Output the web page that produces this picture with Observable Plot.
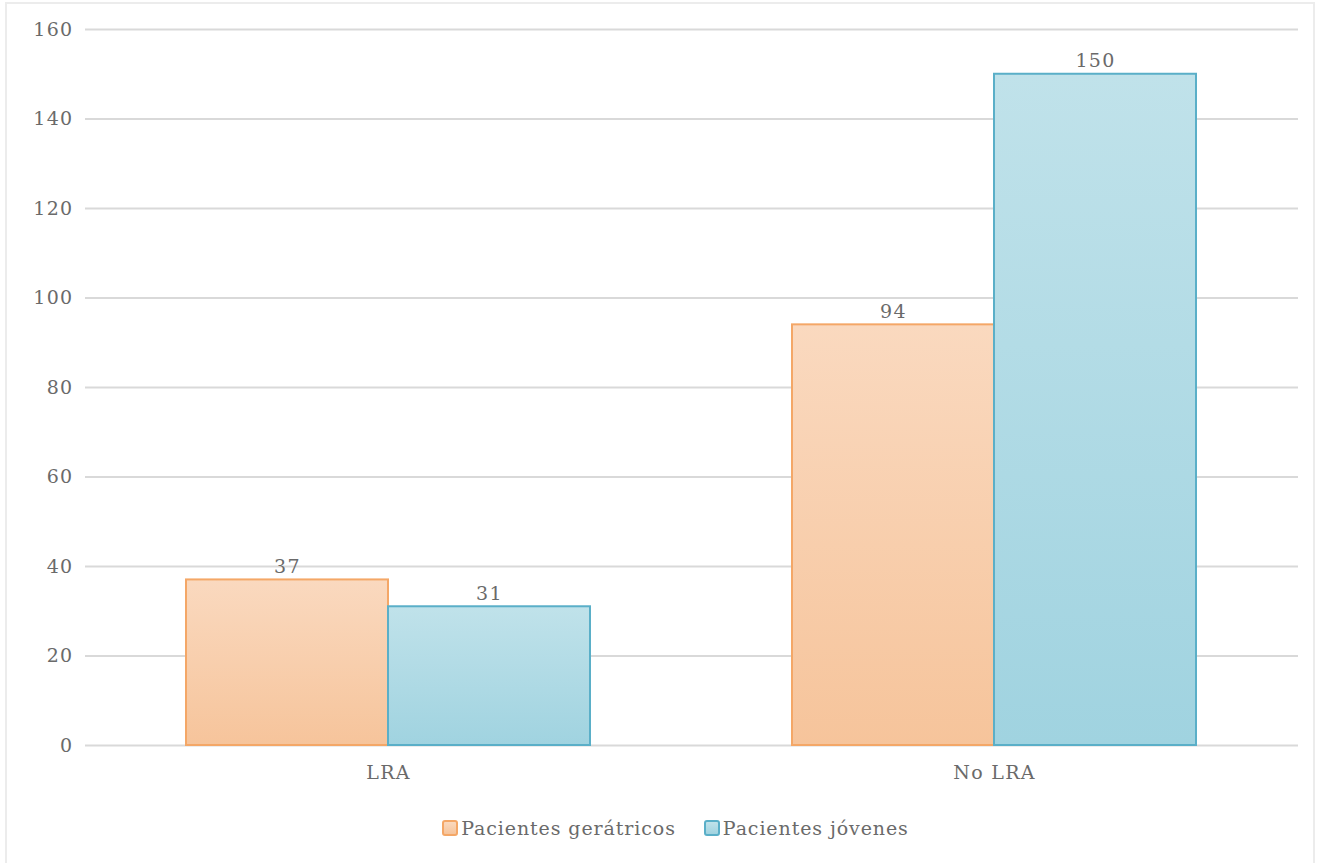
<!DOCTYPE html>
<html>
<head>
<meta charset="utf-8">
<script src="https://cdn.jsdelivr.net/npm/d3@7"></script>
<script src="https://cdn.jsdelivr.net/npm/@observablehq/plot@0.6"></script>
<style>
  html, body { margin: 0; padding: 0; background: #fff; }
  body { width: 1323px; height: 863px; overflow: hidden; position: relative; font-family: "DejaVu Serif", serif; }
  #frame { position: absolute; left: 5px; top: 2px; width: 1310px; height: 880px; border: 2px solid #ececec; box-sizing: border-box; pointer-events: none; }
  #chart { position: absolute; left: 0; top: 0; }
  #chart svg text { letter-spacing: 1.3px; }
  #legend { position: absolute; left: 14px; top: 817px; width: 1323px; display: flex; justify-content: center; gap: 28px; font-size: 19px; letter-spacing: 0.9px; color: #6a6a6a; }
  .item { display: flex; align-items: center; gap: 3px; }
  .sw { width: 16px; height: 16px; border-radius: 3px; box-sizing: border-box; border: 2px solid; }
</style>
</head>
<body>
<div id="chart"></div>
<div id="legend"></div>
<div id="frame"></div>
<script>
// Categories and series
const categories = ["LRA", "No LRA"];
const series = ["Pacientes gerátricos", "Pacientes jóvenes"];
const geriatricos = [37, 94];
const jovenes = [31, 150];
const yTicks = [0, 20, 40, 60, 80, 100, 120, 140, 160];

const colors = {
  "Pacientes gerátricos": { fill: "url(#gradGer)", stroke: "#f4a767", top: "#fad9bf", bottom: "#f6c49b" },
  "Pacientes jóvenes": { fill: "url(#gradJov)", stroke: "#5aafc8", top: "#c0e2ea", bottom: "#a0d3e0" }
};

const rows = [];
categories.forEach((c, i) => {
  rows.push({ cat: c, serie: series[0], value: geriatricos[i] });
  rows.push({ cat: c, serie: series[1], value: jovenes[i] });
});
const ger = rows.filter(d => d.serie === series[0]);
const jov = rows.filter(d => d.serie === series[1]);

const W = 1323, H = 800;
const half = 202; // half of the category band holds one series

const chart = Plot.plot({
  width: W,
  height: H,
  marginLeft: 85,
  marginRight: 25,
  marginTop: 29,
  marginBottom: 55,
  style: { fontFamily: "DejaVu Serif, serif", fontSize: "19px", color: "#6a6a6a", background: "transparent" },
  x: { domain: categories, paddingInner: 0.333, paddingOuter: 0.167, label: null, tickSize: 0, tickPadding: 20 },
  y: { domain: [0, 160], ticks: yTicks, label: null, tickSize: 0, tickPadding: 12, grid: false },
  marks: [
    Plot.ruleY(yTicks, { stroke: "#d9d9d9", strokeWidth: 2 }),
    Plot.barY(ger, { x: "cat", y: "value", insetRight: half, fill: colors[series[0]].fill, stroke: colors[series[0]].stroke, strokeWidth: 2 }),
    Plot.barY(jov, { x: "cat", y: "value", insetLeft: half, fill: colors[series[1]].fill, stroke: colors[series[1]].stroke, strokeWidth: 2 }),
    Plot.text(ger, { x: "cat", y: "value", text: d => String(d.value), dx: -half / 2, dy: -13, fill: "#6a6a6a", fontSize: 19 }),
    Plot.text(jov, { x: "cat", y: "value", text: d => String(d.value), dx: half / 2, dy: -13, fill: "#6a6a6a", fontSize: 19 })
  ]
});

// Vertical gradients for the bar fills
const svgNS = "http://www.w3.org/2000/svg";
const defs = document.createElementNS(svgNS, "defs");
[["gradGer", series[0]], ["gradJov", series[1]]].forEach(([id, s]) => {
  const g = document.createElementNS(svgNS, "linearGradient");
  g.setAttribute("id", id);
  g.setAttribute("x1", "0"); g.setAttribute("y1", "0");
  g.setAttribute("x2", "0"); g.setAttribute("y2", "1");
  [["0%", colors[s].top], ["100%", colors[s].bottom]].forEach(([o, c]) => {
    const st = document.createElementNS(svgNS, "stop");
    st.setAttribute("offset", o);
    st.setAttribute("stop-color", c);
    g.appendChild(st);
  });
  defs.appendChild(g);
});
chart.insertBefore(defs, chart.firstChild);
document.getElementById("chart").appendChild(chart);

// Legend
const legend = document.getElementById("legend");
series.forEach(s => {
  const item = document.createElement("div");
  item.className = "item";
  const sw = document.createElement("span");
  sw.className = "sw";
  sw.style.background = `linear-gradient(${colors[s].top}, ${colors[s].bottom})`;
  sw.style.borderColor = colors[s].stroke;
  const label = document.createElement("span");
  label.textContent = s;
  item.appendChild(sw);
  item.appendChild(label);
  legend.appendChild(item);
});
</script>
</body>
</html>
